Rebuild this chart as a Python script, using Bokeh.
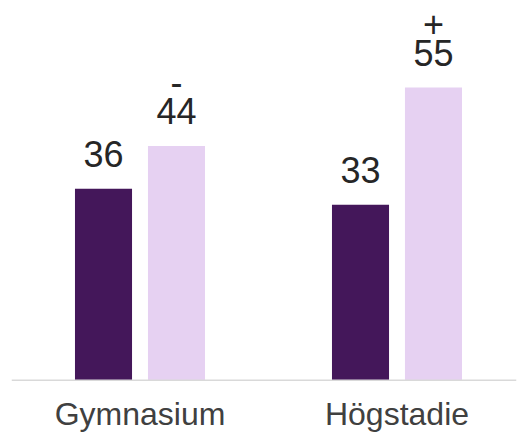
from bokeh.plotting import figure
from bokeh.models import ColumnDataSource, Range1d, Span
from bokeh.transform import dodge
from bokeh.core.properties import value
from bokeh.embed import file_html
from bokeh.resources import INLINE

categories = ["Gymnasium", "Högstadie"]
series_dark = [36, 33]
series_light = [44, 55]
signs_light = ["-", "+"]

x_pos = [i + 0.5 for i in range(len(categories))]

src = ColumnDataSource(data=dict(
    x=x_pos,
    cat=categories,
    zero=[0] * len(categories),
    dark=series_dark,
    light=series_light,
    dark_lbl=[str(v) for v in series_dark],
    light_lbl=[str(v) for v in series_light],
    sign=signs_light,
))

p = figure(width=517, height=433, output_backend="svg", toolbar_location=None,
           x_range=Range1d(0.0, 1.965), y_range=Range1d(-10.02, 71.37),
           min_border_left=11, min_border_right=1, min_border_top=0, min_border_bottom=0)

DARK = "#44175a"
LIGHT = "#e6d1f2"
FONT = value("Liberation Sans")

p.vbar(x=dodge("x", -0.142), top="dark", width=0.222, source=src,
       fill_color=DARK, line_color=None)
p.vbar(x=dodge("x", 0.142), top="light", width=0.222, source=src,
       fill_color=LIGHT, line_color=None)

p.add_layout(Span(location=0, dimension="width", line_color="#d9d9d9", line_width=1.5))

common = dict(source=src, text_font=FONT, text_font_size="36px", text_color="#262626",
              text_align="center", text_baseline="alphabetic")
p.text(x=dodge("x", -0.142), y="dark", text="dark_lbl", y_offset=-35, **common)
p.text(x=dodge("x", 0.142), y="light", text="light_lbl", y_offset=-35, **common)
p.text(x=dodge("x", 0.142), y="light", text="sign", y_offset=-64, **common)

p.text(x="x", y="zero", text="cat", source=src, text_font=FONT, text_font_size="32px",
       text_color="#404040", text_align="center", text_baseline="alphabetic", y_offset=34)

p.axis.visible = False
p.grid.visible = False
p.outline_line_color = None

open("out.html", "w").write(file_html(p, INLINE))
